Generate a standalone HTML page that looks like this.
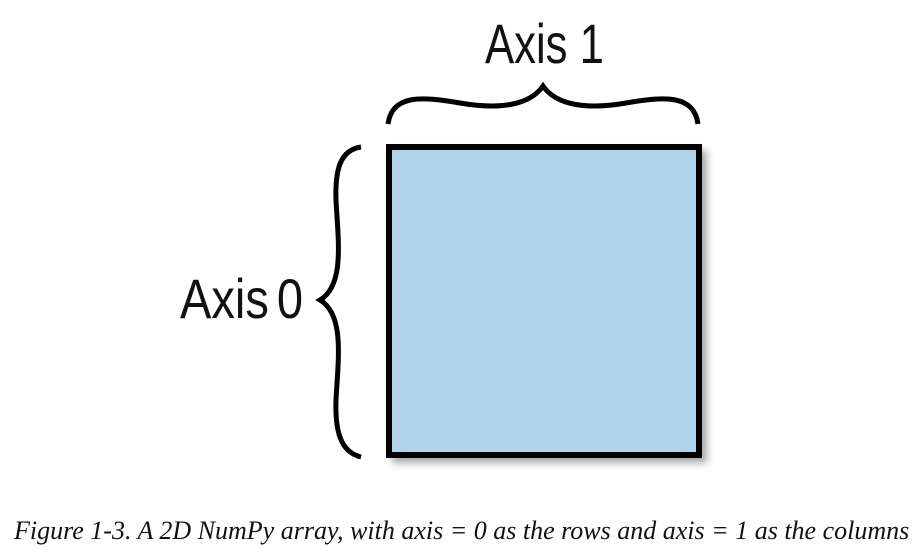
<!DOCTYPE html>
<html><head><style>
body{margin:0;width:923px;height:553px;background:#fff;overflow:hidden;position:relative}
.cap{position:absolute;left:14px;top:516px;font:italic 26px "Liberation Serif",serif;white-space:nowrap;color:#111}
</style></head><body>
<svg width="923" height="553" style="position:absolute;left:0;top:0">
<defs><filter id="s" x="-10%" y="-10%" width="130%" height="130%"><feGaussianBlur stdDeviation="4"/></filter></defs>
<rect x="392" y="150" width="315" height="313" fill="#000" opacity="0.35" filter="url(#s)"/>
<rect x="389" y="147" width="310" height="308" fill="#b0d3e9" stroke="#000" stroke-width="6"/>
<path d="M388 124 C392 95 420 96 460 103 C500 110 530 105 543 86 C556 105 586 110 626 103 C666 96 694 95 698 124" fill="none" stroke="#000" stroke-width="5"/>
<path d="M361 147 C340 150 335 170 336 200 C338 240 345 285 320 300 C345 315 338 360 336 400 C335 430 340 452 361 457" fill="none" stroke="#000" stroke-width="5"/>
<g font-family="Liberation Sans, sans-serif" font-size="56" fill="#111">
<text x="485" y="63" transform="translate(485 0) scale(0.78 1) translate(-485 0)">Axis 1</text>
<text x="180" y="318" word-spacing="-6" transform="translate(180 0) scale(0.84 1) translate(-180 0)">Axis 0</text>
</g>
</svg>
<div class="cap">Figure 1-3. A 2D NumPy array, with axis = 0 as the rows and axis = 1 as the columns</div>
</body></html>
